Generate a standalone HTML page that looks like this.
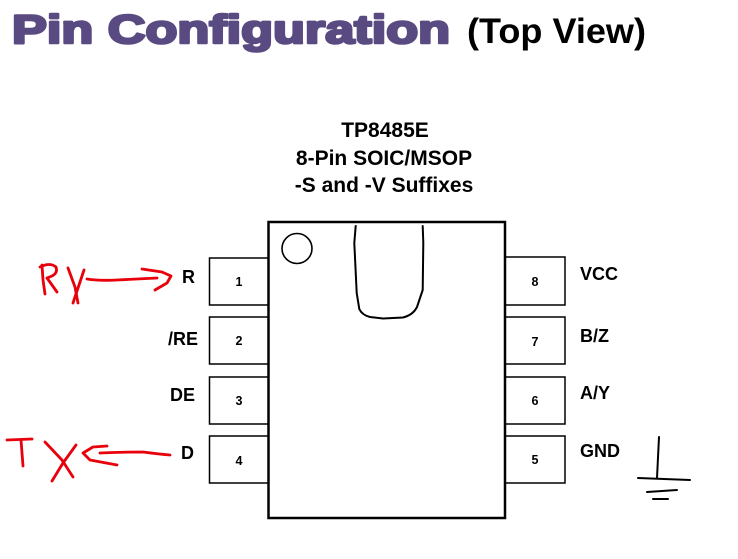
<!DOCTYPE html>
<html>
<head>
<meta charset="utf-8">
<style>
  html, body { margin: 0; padding: 0; background: #ffffff; }
  body { width: 738px; height: 559px; overflow: hidden; }
  svg { display: block; }
  .lbl { font-family: "Liberation Sans", Arial, sans-serif; font-weight: bold; font-size: 18px; fill: #000; }
  .num { font-family: "Liberation Sans", Arial, sans-serif; font-weight: bold; font-size: 12.5px; fill: #000; }
  .hdr { font-family: "Liberation Sans", Arial, sans-serif; font-weight: bold; font-size: 21px; fill: #000; }
</style>
</head>
<body>
<svg width="738" height="559" viewBox="0 0 738 559" xmlns="http://www.w3.org/2000/svg">
  <rect x="0" y="0" width="738" height="559" fill="#ffffff"/>

  <!-- Title -->
  <text x="12" y="43" textLength="438" lengthAdjust="spacingAndGlyphs"
        font-family="Liberation Sans, Arial, sans-serif" font-weight="bold" font-size="40"
        fill="#5a4a82" stroke="#5a4a82" stroke-width="2.6" stroke-linejoin="round">Pin  Configuration</text>
  <text x="467" y="43" textLength="179" lengthAdjust="spacingAndGlyphs"
        font-family="Liberation Sans, Arial, sans-serif" font-weight="bold" font-size="35"
        fill="#000">(Top View)</text>

  <!-- Header -->
  <text class="hdr" x="385" y="137" text-anchor="middle">TP8485E</text>
  <text class="hdr" x="384" y="165" text-anchor="middle">8-Pin SOIC/MSOP</text>
  <text class="hdr" x="384" y="192" text-anchor="middle">-S and -V Suffixes</text>

  <!-- Pins -->
  <g fill="#fff" stroke="#000" stroke-width="1.5">
    <rect x="209.5" y="258" width="59" height="47"/>
    <rect x="209.5" y="317" width="59" height="47"/>
    <rect x="209.5" y="377" width="59" height="47"/>
    <rect x="209.5" y="436" width="59" height="47"/>
    <rect x="505" y="257" width="60" height="48"/>
    <rect x="505" y="317" width="60" height="47"/>
    <rect x="505" y="377" width="60" height="47"/>
    <rect x="505" y="436" width="60" height="47"/>
  </g>

  <!-- Body -->
  <rect x="268.5" y="222" width="236.5" height="296" fill="#fff" stroke="#000" stroke-width="2.5"/>
  <circle cx="297" cy="248.5" r="15" fill="none" stroke="#000" stroke-width="1.6"/>
  <path d="M355.7 226 L354.3 243 L356.7 293 L359.3 309 Q362 315 370 317 L383 318.5 L403 317.5 Q413 315 417 307 L422.7 290 L423.3 243 L422.7 226"
        fill="none" stroke="#000" stroke-width="2" stroke-linejoin="round" stroke-linecap="round"/>

  <!-- Pin numbers -->
  <text class="num" x="239" y="286" text-anchor="middle">1</text>
  <text class="num" x="239" y="345" text-anchor="middle">2</text>
  <text class="num" x="239" y="405" text-anchor="middle">3</text>
  <text class="num" x="239" y="465" text-anchor="middle">4</text>
  <text class="num" x="535" y="286" text-anchor="middle">8</text>
  <text class="num" x="535" y="346" text-anchor="middle">7</text>
  <text class="num" x="535" y="405" text-anchor="middle">6</text>
  <text class="num" x="535" y="464" text-anchor="middle">5</text>

  <!-- Left labels -->
  <text class="lbl" x="195" y="283" text-anchor="end">R</text>
  <text class="lbl" x="198" y="345" text-anchor="end">/RE</text>
  <text class="lbl" x="195" y="401" text-anchor="end">DE</text>
  <text class="lbl" x="194" y="459" text-anchor="end">D</text>

  <!-- Right labels -->
  <text class="lbl" x="580" y="280">VCC</text>
  <text class="lbl" x="580" y="342">B/Z</text>
  <text class="lbl" x="580" y="399">A/Y</text>
  <text class="lbl" x="580" y="457">GND</text>

  <!-- Red handwritten RX -->
  <g fill="none" stroke="#e8000b" stroke-width="2.8" stroke-linecap="round" stroke-linejoin="round">
    <path d="M42 265 L43 280 L45 294"/>
    <path d="M40 267 Q50 262 56 267 Q58 273 52 276 L47 278"/>
    <path d="M47 278 L57 292"/>
    <path d="M68 268 L75 287 L78 303"/>
    <path d="M84 270 L78 288 L73 303"/>
    <path d="M87 279 Q100 281 117 280 Q137 279 157 278"/>
    <path d="M142 269 L162 272 L171 276 L167 283 L155 290"/>
  </g>

  <!-- Red handwritten TX -->
  <g fill="none" stroke="#e8000b" stroke-width="2.8" stroke-linecap="round" stroke-linejoin="round">
    <path d="M7 440 L32 439"/>
    <path d="M21 440 L23 466"/>
    <path d="M45 442 L62 460 L73 477"/>
    <path d="M76 445 L63 463 L52 481"/>
    <path d="M107 446 L93 447 L83 453 L90 460 L117 465"/>
    <path d="M100 453 Q120 452 143 452 Q158 454 170 455"/>
  </g>

  <!-- Ground symbol -->
  <g fill="none" stroke="#000" stroke-width="2" stroke-linecap="round">
    <path d="M659 437 L657 478"/>
    <path d="M638 478 L690 480"/>
    <path d="M647 492 L677 490"/>
    <path d="M653 499 L668 499"/>
  </g>
</svg>
</body>
</html>
